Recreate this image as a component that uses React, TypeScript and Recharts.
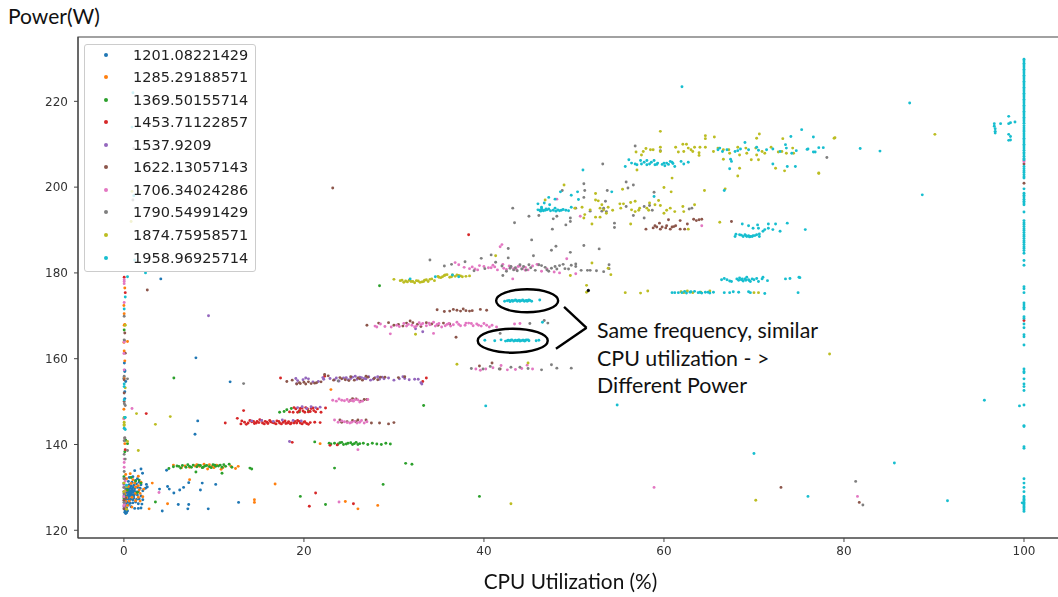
import { ScatterChart, Scatter, XAxis, YAxis, Legend, ReferenceArea, ReferenceDot, ReferenceLine } from "recharts";

type Pt = [number, number];

const FREQS = ["1201.08221429", "1285.29188571", "1369.50155714", "1453.71122857", "1537.9209", "1622.13057143", "1706.34024286", "1790.54991429", "1874.75958571", "1958.96925714"];
const COLORS = ["#1f77b4", "#ff7f0e", "#2ca02c", "#d62728", "#9467bd", "#8c564b", "#e377c2", "#7f7f7f", "#bcbd22", "#17becf"];
const X_TICKS = [0, 20, 40, 60, 80, 100];
const Y_TICKS = [120, 140, 160, 180, 200, 220];

const s1201: Pt[] = [
  [0.1, 124.2], [0.2, 123.9], [0.3, 124.1], [0.15, 124.6], [0.05, 125], [0.4, 124.5], [0.1, 125.6], [0.3, 125.2], [0.5, 125.9], [0.8, 125.5],
  [1.2, 125.1], [1.6, 125.1], [1.9, 125.2], [0.2, 126.2], [0.4, 126.5], [0.7, 126.3], [1, 126.4], [1.3, 126.6], [1.6, 126.2], [0.1, 127],
  [0.3, 127.2], [0.5, 127.4], [0.6, 127], [0.8, 127.3], [1, 127.1], [1.1, 127.5], [1.4, 127.2], [1.7, 127.3], [0.2, 128], [0.4, 128.1],
  [0.5, 128.4], [0.6, 127.9], [0.7, 128.2], [0.8, 128.5], [0.9, 128], [1, 128.3], [1.1, 128], [1.2, 128.4], [1.5, 128.2], [1.9, 128], [0.3, 128.8],
  [0.5, 129], [0.6, 128.7], [0.7, 129.1], [0.8, 128.8], [0.9, 129.2], [1, 128.9], [1.1, 129.2], [1.3, 129], [1.6, 129], [2.1, 129.2], [0.2, 129.6],
  [0.4, 129.8], [0.6, 129.5], [0.7, 129.9], [0.9, 129.6], [1, 130], [1.2, 129.7], [1.5, 130], [1.8, 129.8], [2.4, 129.8], [0.3, 130.4], [0.6, 130.6],
  [0.8, 130.3], [1.1, 130.5], [1.4, 130.8], [1.9, 130.6], [2.5, 130.7], [2.6, 130.1], [0.5, 131.4], [0.9, 131.2], [1.3, 131.6], [1.7, 131.2], [0.6, 132.3],
  [1, 132.5], [1.5, 132], [1.2, 133.9], [1.9, 134.3], [2.07, 133.3], [3.96, 129.6], [4.85, 130.2], [5.04, 129.6], [5.55, 128.7], [6.2, 129.4],
  [6.63, 130], [7.2, 131.1], [8.7, 131], [8.5, 129.4], [10.2, 130.7], [6.04, 126], [7.2, 126], [7.1, 125], [9.37, 125], [4.26, 124.5], [12.74, 126.5],
  [4.74, 134], [11.8, 154.6], [8.2, 145.5], [7.9, 142.4], [8, 160.2], [4.1, 178.6], [2, 126.1], [2.1, 127.1], [0, 155.4], [0.1, 157.3],
  [0.05, 159], [0.1, 157], [0.2, 154.7], [0.1, 152.3], [0.1, 150.7],
];
const s1285: Pt[] = [
  [0.1, 125.3], [0.4, 125.8], [0.9, 125.4], [1.3, 126.9], [0.2, 126.7], [0.6, 126.8], [1.8, 126.8], [0.3, 127.6], [0.9, 127.7], [1.6, 127.7],
  [2.1, 127.8], [0.1, 128.5], [1.3, 128.6], [1.8, 128.6], [0.3, 129.3], [1.7, 129.4], [2.2, 129.6], [0.5, 130.2], [1.3, 130.1], [1.6, 130.4],
  [0.8, 130.9], [1.2, 131], [1.9, 131.2], [1, 131.8], [0.3, 132], [0.2, 133], [1.6, 132.6], [0.7, 133.2], [3.15, 131], [2.8, 125], [4.85, 126.2],
  [7.3, 131.8], [16.8, 130.8], [14.5, 127.1], [14.5, 126.5], [26, 125], [23, 152.8], [21.8, 140.2], [5.5, 135.2], [6.4, 134.6], [7.3, 134.7],
  [7.9, 135], [8.4, 134.9], [8.9, 135.4], [9.3, 134.3], [9.8, 134.9], [10.3, 135.2], [10.8, 134.2], [11, 134.6], [11.9, 134.9], [12.4, 134.4],
  [12.7, 134.9], [0, 148.2], [0.1, 159.5], [0, 163.8], [0.1, 168], [0, 172.4], [0.1, 176.5], [0, 146], [0.1, 140.2], [28.2, 125.8], [24.6, 126.7],
  [0.03, 170.5], [0.03, 167.8], [0.4, 164], [0.03, 161.8], [0.03, 155.5], [6.8, 135], [8.1, 135.3], [9.5, 135.3], [10, 134.6],
];
const s1369: Pt[] = [
  [5, 134.4], [5.5, 134.8], [5.9, 135], [6.1, 134.9], [6.5, 135.1], [6.9, 134.7], [7.3, 134.9], [7.7, 135.2], [8.1, 134.8], [8.5, 135.1],
  [8.8, 134.7], [9.2, 135.1], [9.5, 134.8], [9.9, 135.3], [10.2, 134.9], [10.5, 135], [10.9, 134.7], [11.1, 135.3], [11.7, 135.4], [12, 134.7],
  [14, 134.5], [14.2, 134.3], [10.9, 133.3], [8, 133.6], [21.2, 140.6], [22.8, 140.3], [23.4, 140.3], [23.8, 140.1], [24.2, 140.5], [24.7, 140.1],
  [25.2, 140.4], [25.6, 140.2], [26, 140], [26.6, 140.3], [27.1, 140], [27.6, 140.3], [28.1, 140.1], [28.6, 140], [29.1, 140.3], [29.6, 140.1],
  [17.3, 147.5], [17.8, 147.7], [18.1, 148.1], [18.6, 148.4], [19.5, 147.6], [20.5, 147.8], [5.55, 155.5], [23.4, 134.5], [19.6, 127.9],
  [22.4, 126], [3.5, 126.6], [28.4, 177], [33.3, 149.1], [1.3, 131.5], [0.8, 132.3], [1.9, 131], [1.5, 128.8], [0.4, 129.4], [0.1, 128], [1.7, 131.7],
  [0.1, 138.3], [0.2, 141], [39.5, 127.9], [28.8, 130.7], [31.3, 135.6], [32, 135.4], [0.03, 166.7], [0.4, 140.2], [0, 130], [0, 127.5], [0, 132.5],
  [6.3, 134.5], [7.1, 135.3], [7.5, 134.7], [8.3, 135.2], [8.7, 134.6], [9, 135], [9.7, 134.6], [10.1, 135.2], [10.7, 135.2], [11.3, 134.9],
  [24, 140.4], [24.4, 140], [24.9, 140.3], [25.4, 140], [25.8, 140.5], [26.2, 140.2], [23, 140.1],
];
const s1453: Pt[] = [
  [11.26, 145], [12.6, 146.1], [13, 144.8], [13.4, 145.2], [13.8, 145], [14.2, 145.3], [14.5, 144.9], [14.8, 145.4], [15.1, 145.8], [15.4, 145],
  [15.7, 145.4], [16, 144.9], [16.3, 145.3], [16.7, 145], [17, 145.5], [17.3, 145], [17.7, 145.2], [18, 144.9], [18.3, 145.3], [18.6, 145], [19, 145.4],
  [19.3, 145.6], [19.6, 145], [20, 145.2], [20.3, 144.9], [20.7, 145.1], [21.2, 145.2], [21.8, 145.1], [18.4, 147.6], [18.9, 148.6], [19.3, 147.5],
  [19.6, 148.4], [19.9, 147.8], [20.2, 148.6], [20.5, 147.6], [20.8, 148.4], [21.1, 147.9], [21.5, 148.3], [21.9, 147.5], [22.4, 148.5], [17.4, 155.5],
  [22.3, 155.9], [13.3, 147.9], [2.48, 147.2], [21.3, 128.7], [20.6, 125.6], [25.5, 126.2], [18.7, 140.5], [38.3, 188.9], [33.6, 155.5],
  [22.9, 139.8], [23.7, 139.9], [0.03, 179], [0.15, 175.4], [0.15, 138.8], [100, 168.9], [33.2, 154.7],
  [13.1, 145.5], [13.6, 144.7], [14, 145.6], [14.4, 145.4], [14.7, 145], [15, 145.1], [15.3, 145.6], [15.6, 144.8], [15.9, 145.2], [16.2, 145.6], [16.5, 145.1], [16.9, 144.8],
  [17.2, 145.4], [17.5, 144.8], [17.9, 145.5], [18.2, 145], [18.5, 144.8], [18.9, 145], [19.2, 145], [19.5, 145.4], [19.8, 144.8], [20.1, 145.3], [20.5, 144.7],
  [18.8, 147.5], [19.1, 148.3], [19.5, 147.9], [19.8, 148.5], [20.1, 147.5], [20.4, 148.3], [20.7, 147.7], [21, 148.5], [21.3, 147.6],
];
const s1537: Pt[] = [
  [19.3, 154.9], [19.9, 155.1], [20.5, 155.3], [21, 154.6], [21.6, 154.7], [22.2, 155.2], [22.9, 155.4], [23.4, 155.1], [23.9, 154.8], [24.4, 155.5],
  [24.9, 155.1], [25.4, 155.7], [25.9, 155.2], [26.4, 155.6], [26.9, 155.3], [27.4, 155], [27.9, 155.6], [28.4, 155.2], [28.9, 155.3], [29.4, 155.5],
  [30, 155], [30.6, 155.3], [31.2, 155.4], [31.7, 155.1], [32.3, 155.2], [33, 154.4], [33.2, 166.3], [19.3, 148.6], [19.8, 148.8], [20.3, 148.4], [20.8, 148.8],
  [21.3, 148.6], [21.8, 148.7], [14.2, 145.5], [15.3, 145.6], [16.6, 145.4], [17.6, 145.7], [18.8, 145.6], [19.7, 145.5], [18.4, 140.7], [9.4, 170], [0.05, 126.5],
  [32.4, 167], [0, 128], [0, 125.5], [0, 130.7], [19.1, 155.4], [24.7, 155.6], [25.2, 155.4], [25.7, 155.9], [26.2, 155.7], [26.7, 155.4], [27.2, 155.8], [27.7, 155.2],
  [28.2, 155.8], [28.7, 155.7], [22.1, 155.6], [23.6, 155.5], [31, 155.8], [32.7, 155.2], [33.1, 154.1], [20.2, 155.5], [19.2, 154.2],
];
const s1622: Pt[] = [
  [18.1, 154.7], [18.7, 155], [19.5, 154.4], [20, 154.5], [20.5, 154.6], [21.2, 154.3], [21.9, 154.6], [22.7, 156], [24.2, 155.3], [25, 154.9],
  [26.2, 155.3], [26.9, 155.9], [28.2, 155.1], [29, 155.7], [30.5, 155.6], [31.2, 155.8], [27, 167.8], [28.3, 168.3], [29.4, 168.4], [30, 167.8],
  [30.5, 168], [31, 167.6], [31.4, 168.3], [31.8, 168.8], [32.1, 168.4], [32.6, 168], [33, 167.5], [33.6, 168.4], [34.2, 168.1], [34.9, 167.8], [35.5, 168.3],
  [36.2, 168.1], [34.8, 171.4], [35.6, 171], [36.2, 171.1], [36.6, 171.5], [37, 171.3], [37.4, 171.1], [37.7, 171.6], [38, 171.2], [38.4, 171.1], [38.7, 171.2],
  [39.6, 171.5], [40.3, 171.3], [58, 190.2], [58.8, 190.5], [59, 191], [59.2, 190.7], [59.5, 191.6], [59.6, 190.2], [59.8, 190.7], [60.2, 190.5],
  [60.3, 191], [60.5, 192.4], [60.7, 190.2], [60.9, 190.7], [61.1, 190.8], [61.3, 191], [61.8, 190.2], [61.8, 192.2], [62.3, 190.2], [62.6, 191.4],
  [63.3, 192.5], [63.6, 192.2], [63.9, 192.4], [64.2, 192.5], [67.5, 192], [25.2, 150.3], [25.8, 150.6], [27, 150.5], [26.9, 145.7], [27.5, 145],
  [24.2, 145.2], [25.8, 145.3], [26, 145.7], [23.2, 199.8], [100, 200.9], [100, 205.4], [0.1, 132], [0.2, 127.5], [0.1, 141.5], [0.1, 166], [0.05, 164.2],
  [40.9, 159], [39.5, 158.3], [41.8, 157.6], [36.9, 165], [2.6, 176], [73, 130], [81.7, 126.5], [0.15, 161.3], [0.03, 155.1], [0.03, 152], [0.03, 150],
  [0, 131], [0, 129], [0, 127], [0, 125], [19.2, 154.1], [19.6, 154.2], [20.2, 154.1], [20.8, 154.2], [21.4, 154.4], [24, 155.6], [24.6, 155.1], [25.2, 155.8],
  [25.6, 155], [26, 155.5], [26.5, 155], [27.1, 155.7], [27.8, 155.4], [28.5, 155.7], [22.3, 156.3], [24, 145.7], [24.8, 145.3], [25.4, 145.6], [28.4, 145],
  [30, 145.1], [29.4, 144.8], [23.3, 155], [25.4, 150.7], [26.3, 150.1], [26.7, 150.5],
];
const s1706: Pt[] = [
  [27.9, 167.6], [28.5, 168.1], [29, 167.5], [29.7, 167.4], [30.3, 167.8], [31.1, 168.2], [31.6, 168], [32, 167.8], [32.3, 167.4], [32.8, 168.4], [33.2, 168.2],
  [33.6, 167.7], [34, 167.9], [34.4, 168.5], [34.8, 168], [35.3, 167.4], [35.7, 167.7], [36.1, 168.2], [36.6, 167.9], [37, 168.5], [37.4, 167.7], [37.9, 167.8],
  [38.3, 168.3], [38.8, 167.7], [39.2, 168.1], [39.7, 167.6], [40.3, 167.8], [40.9, 167.8], [41.4, 167.4], [29.6, 165.8], [34.4, 165.9], [43.4, 168.1], [44, 168.2],
  [36.8, 182.4], [37.2, 181.9], [37.8, 181.3], [38.4, 181], [39, 180.9], [39.5, 181.7], [40, 181.5], [40.5, 181.2], [41, 181.8], [41.5, 180.7], [42.2, 181.1],
  [42.8, 181.6], [43.3, 181], [43.8, 181.5], [44.3, 181], [44.9, 180.7], [45.4, 181.6], [45.9, 182], [46.4, 180.4], [47, 180.9], [47.8, 180.2], [48.4, 180],
  [50.2, 179.8], [49.2, 183.3], [41.8, 186.1], [42, 186.6], [48.1, 197.2], [50.7, 193.2], [42.1, 182], [44.6, 181.3], [46, 181.9], [43.2, 178.6],
  [39.1, 157.6], [39.6, 157.3], [40.2, 157.6], [41, 157.9], [41.9, 158.4], [42.6, 157.4], [43.5, 157.5], [44.2, 157.7], [44.8, 158.5], [45.4, 157.6], [23.2, 150.3],
  [23.9, 150.6], [24.5, 150.2], [25, 150], [25.5, 150.1], [26, 150.4], [26.5, 150.1], [27.1, 150.5], [23.4, 145.7], [24.2, 145.5], [24.8, 145.1], [25.3, 145.2],
  [25.9, 145], [26.4, 145.6], [27, 145.3], [26, 138.8], [3.9, 128.8], [23.9, 126.6], [0.9, 148.4], [0, 146], [0.05, 143.7], [0, 161.2],
  [0.15, 131.5], [0.05, 126], [100, 205.9], [100, 206.2], [58.9, 130], [64.2, 191], [81.5, 127.9], [0.03, 178.4], [0.03, 178], [0.03, 177.5], [0.03, 173.1], [0.03, 163.9],
  [0.03, 157.4], [0.03, 136.6], [0.03, 135.8], [0.03, 134.7], [0, 130], [0, 127.8], [0, 125.8], [28.1, 167.4], [30.6, 167.5], [31.4, 167.6], [32.5, 167.6], [33, 167.9],
  [33.9, 168.3], [34.6, 167.6], [35, 168.2], [35.9, 168], [36.3, 167.6], [37.2, 168], [38, 168.3], [38.6, 168.2], [39.4, 167.8], [40, 168.2], [40.6, 167.4], [38.7, 181.4],
  [39.3, 180.7], [40.8, 181.2], [41.2, 181.4], [42.5, 180.8], [43, 181.4], [43.6, 180.8], [44, 181.6], [44.6, 180.6], [23.6, 150.1], [24.2, 150.3], [24.8, 150.5], [25.3, 150.3],
  [25.7, 150.5], [26.2, 149.9], [23.8, 145.2], [24.5, 145.3], [25.1, 145], [25.6, 145.4], [26.2, 145.2], [26.7, 145],
];
const s1790: Pt[] = [
  [45.3, 187.7], [47.5, 185.3], [48, 186.2], [51.1, 186.4], [52.8, 185.6], [49.6, 184.8], [45.5, 184], [42.7, 183.5], [42, 181.6], [42.5, 180.4], [42.9, 181.1],
  [43.3, 180.7], [43.7, 180.5], [44, 181.9], [44.4, 181.5], [44.7, 180.7], [45, 181.9], [46.1, 181.9], [46.4, 181.7], [47, 180.7], [47.5, 181.1], [47.9, 181.5],
  [48.4, 181.7], [48.8, 182], [49.7, 181.8], [50.2, 182.1], [50.2, 181.5], [50.8, 180.6], [51.5, 180.6], [51.8, 180.6], [52.5, 180.5], [53.3, 180.3], [53.9, 181.9],
  [53.9, 181], [42.1, 179.4], [41.3, 182.5], [34, 183], [38.9, 180.5], [39.7, 183.4], [40.8, 184.2], [42.7, 185.7], [43.4, 191.7], [40.1, 181], [37.9, 182.6],
  [36.4, 182], [35.6, 181.6], [46.1, 193.4], [48.1, 193.2], [43.2, 195.1], [45, 193.2], [48.7, 199.2], [51.1, 200.8], [51.2, 199.2], [51.1, 197.6], [50.2, 195.1],
  [53.7, 199.2], [55.8, 201.2], [56, 199.8], [56.6, 200.5], [58.9, 198.8], [56.8, 209.6], [59.6, 208.5], [53.2, 205.4], [78.1, 206.9], [47.7, 192.6], [47.6, 190.2],
  [49.1, 191.2], [49.6, 192.8], [49.6, 192], [54.5, 191.6], [54.5, 190.6], [57.8, 192.8], [56.6, 193.4], [53.5, 196.7], [53.3, 195.1], [53.6, 194.3], [53.1, 194.4],
  [51.8, 194.4], [55.8, 195.5], [57.8, 195.5], [58.4, 195.7], [58.7, 194.6], [62.8, 194.9], [63.1, 195.1], [38.6, 157.7], [39.9, 157.6], [40.7, 158.2], [41.7, 157.6],
  [43, 158], [44, 158], [44.9, 157.7], [46.4, 157.4], [47.5, 158.6], [48.1, 157.8], [49.7, 157.8], [46.7, 168.9], [47.1, 168.3], [45.1, 168.2], [41.8, 165.9], [23.8, 154.8],
  [13.3, 154.2], [0.05, 149.5], [0.1, 141.5], [0.05, 130], [81.3, 131.4], [82.1, 125.9], [1, 197], [1.1, 209], [0.03, 169.9], [0.03, 164.4], [0.4, 155.3], [0.03, 155.9],
  [0.15, 149.1], [0.03, 140.9], [0.4, 138.6], [0.03, 137.7], [0.15, 136.6], [0.03, 133.7], [0, 132], [0, 128.5], [0, 126.5], [43, 181.5], [43.5, 181.2], [44.2, 180.9],
  [45.2, 181.2], [45.7, 180.6], [46.8, 181.3], [47.2, 180.4], [48.1, 180.9], [49, 181], [49.4, 180.9],
];
const s1874: Pt[] = [
  [30, 178.5], [30.7, 178.2], [31.1, 177.8], [31.5, 177.9], [31.9, 178], [32.3, 177.7], [32.7, 178.1], [33.1, 177.9], [33.4, 178.3], [33.8, 178], [34.2, 178.6], [34.5, 178.2],
  [34.9, 179.2], [35.2, 178.9], [35.6, 179.4], [35.9, 179.6], [36.2, 179], [36.5, 179.5], [36.8, 179.2], [37.2, 179.4], [37.6, 179.1], [38, 179.2], [38.4, 179.3],
  [37, 158.7], [41.3, 184], [32.4, 165.7], [51.4, 177.1], [55.7, 175.4], [57.4, 175.3], [58.2, 175.8], [49.6, 179.4], [44.9, 159], [52, 182.3], [54.1, 179.6], [53.8, 181.1],
  [48.9, 200.5], [46.8, 197], [52.4, 198.5], [55.4, 199.5], [60, 199.9], [60.8, 198.9], [64.5, 199.2], [66.8, 199.6], [50.1, 195.1], [50.9, 195.3], [51.1, 192.8], [51.2, 193.6],
  [51.8, 194.7], [52.4, 197], [52.7, 196.8], [52.4, 193], [52.9, 193], [52, 191.4], [52.9, 195.1], [53.1, 195.9], [53.3, 194.7], [53.6, 193.9], [53.8, 195.3], [54.3, 194.6],
  [55.1, 196.1], [55.5, 196.1], [55.2, 195.1], [56.3, 191.4], [56.3, 196.4], [56.8, 196.7], [56.4, 194.7], [56.8, 194.3], [57.2, 194.6], [57.3, 195.1], [58.1, 195.1], [58.3, 194.6],
  [58.4, 196.3], [59, 195.9], [59.4, 196.9], [59.6, 195.7], [60, 193.9], [60.3, 194.6], [60.7, 195.1], [61.2, 194.3], [62.1, 195.5], [62.2, 194.3], [62.7, 190.2], [63.4, 195.9], [66.2, 191.8],
  [59.6, 213], [64.6, 212], [64.6, 211.3], [65.6, 211.7], [70.3, 211.4], [70.6, 212.4], [73.2, 211.3], [79, 211.5], [56.9, 208.2], [57.5, 207.5], [57.7, 208.3], [58, 209], [58.5, 208.7],
  [58.8, 208.7], [59.6, 208.3], [59.6, 209.3], [61.3, 209.3], [61.6, 208.2], [62.1, 210], [62.2, 208.3], [62.5, 210], [62.7, 209.1], [63, 208.7], [63.2, 208.3], [63.4, 209.3], [64, 209.3],
  [64.6, 209.3], [63.9, 208], [63.9, 207.4], [65.5, 208.3], [66, 209.1], [66.6, 208.7], [67.2, 208.7], [67.3, 207.9], [66.6, 206.5], [68.2, 209.3], [68.4, 207.5], [69.1, 209.1], [69.2, 207.9],
  [69.7, 206.4], [70.2, 209.1], [70.3, 207.5], [70.5, 206.4], [70.9, 208.3], [71.2, 207.9], [71.9, 209.3], [72.7, 208.2], [73.1, 208.3], [73.6, 207.9], [74.3, 209.1], [74.4, 207.9], [73.4, 203.8],
  [77.2, 203.3], [68.2, 202.6], [68.4, 204.4], [57, 204], [60.9, 202.1], [72.4, 204.4], [90.1, 212.3], [78.9, 211.4], [77.2, 203.2], [61.9, 175.6], [62.2, 175.4], [62.6, 175.8], [63.2, 175.4],
  [64.1, 175.5], [65.1, 175.8], [70, 175.4], [70.5, 175.4], [78.4, 161.1], [5.15, 146.5], [0.3, 124.9], [43, 126.2], [70.2, 127], [0.3, 130.2], [0.9, 199], [0.8, 192], [51.4, 175.5],
  [0.15, 167.8], [0.15, 153.2], [0.03, 146.3], [0.03, 145.2], [0.03, 144.7], [0.03, 144.4], [0.4, 140.7], [1.6, 138.6], [1.4, 147.2], [3.5, 144.7], [0, 131], [0, 129],
  [30.9, 178.3], [31.3, 178.1], [31.7, 178.3], [32.1, 178], [32.5, 178.2], [32.9, 177.8], [33.3, 178], [33.6, 178.4], [34, 178.5], [35, 179], [35.4, 179.1], [35.7, 179.5], [36.4, 179.1], [37, 179.5], [37.4, 179.3],
];
const s1958Column: number[] = [
  229.8, 229.4, 228.9, 228.5, 228, 227.5, 227.1, 226.6, 226.1, 225.7, 225.2, 224.7, 224.3, 223.8, 223.3, 222.9, 222.4, 221.9, 221.5, 221, 220.5, 220.1, 219.6, 219.1, 218.7, 218.2, 217.7,
  217.3, 216.8, 216.3, 215.9, 215.4, 214.9, 214.3, 213.8, 213.3, 212.9, 212.4, 211.9, 211.4, 211, 210.5, 210, 209.6, 209.1, 208.6, 208.1, 207.7, 207.2, 206.7, 206.4, 204.8, 204.3, 203.8, 203.4,
  202.9, 202.4, 202.1, 199.6, 198.6, 198.1, 197.7, 197.2, 196.7, 196.3, 195.9, 194.2, 192.2, 191.7, 191.3, 190.8, 190.3, 189.9, 189.4, 188.9, 188.5, 188, 187.5, 187.1, 186.6, 186.1, 185.7, 185.2,
  184.6, 182.9, 181.8, 176.8, 176.3, 175.4, 173, 172.5, 172, 171.6, 169.8, 169.4, 168.1, 167.2, 165.6, 165.1, 163.2, 157.6, 157, 156.7, 155.3, 154.1, 153.5, 152.6, 149.2, 144.4, 144.2, 139.5,
  139.1, 132, 131, 130, 129, 127.9, 127.5, 127.2, 126.9, 126.5, 126.2, 125.9, 125.5, 125.2, 124.8, 124.4,
];
const s1958: Pt[] = [
  ...s1958Column.map((y): Pt => [100, y]),
  [96.7, 214.8], [96.7, 214.2], [96.8, 213.6], [96.8, 213], [96.8, 212.6], [97.4, 214.8], [98.3, 216.5], [98.5, 215], [98.3, 214.8], [99, 215.2], [98.3, 212.3], [98.5, 211.8], [98.5, 211], [98.3, 210.9],
  [99.5, 149], [95.6, 150.3], [99.8, 126.4], [91.5, 126.9], [85.6, 135.7], [87.3, 219.6], [88.7, 198.2], [75.7, 190.1], [75.1, 178.9], [75.3, 213.4], [76.6, 211.7], [75.9, 208.8], [76.6, 208.2],
  [77.2, 209.2], [77.7, 209.2], [81.8, 209], [84, 208.4], [62, 223.4], [66, 208.7], [66.2, 209.1], [66.5, 208.3], [67, 208.7], [67.9, 208.3], [68.2, 208.5], [68.5, 208.9], [69, 210.4], [69.4, 208.7],
  [70.3, 209.3], [70.5, 208.6], [71.4, 208.7], [72.1, 208.9], [72.9, 208.3], [73.5, 209.9], [73.6, 209.1], [74.1, 211.8], [76, 208.9], [76.8, 208.2], [74.7, 208.5], [74.2, 207.9], [72.1, 205.4],
  [67.3, 204.3], [67.4, 206.5], [67.5, 206], [73.7, 204.8], [74.6, 204.8], [55.7, 204.8], [56.1, 206.4], [56.4, 205.6], [56.8, 205.4], [57, 205.2], [57.4, 206.2], [57.5, 205.4], [58.1, 206.2],
  [58.1, 205.2], [58.6, 205.8], [58.9, 206.2], [59, 205.2], [59.3, 205.6], [60, 205.6], [60.1, 205], [60.3, 205.6], [60.7, 206], [60.9, 205.8], [61.2, 204.8], [61.9, 206], [62.2, 205.4], [62.7, 205.8],
  [46, 194.7], [46.2, 194.6], [46.4, 194.9], [46.6, 194.5], [46.8, 194.6], [47, 194.7], [47.2, 194.9], [47.7, 194.6], [47.9, 195.1], [48.2, 194.7], [48.4, 194.5], [48.6, 194.6], [49.1, 194.6], [49.4, 194.5],
  [49.7, 195.3], [46, 196.1], [46.7, 196.3], [47.2, 197.6], [47.9, 197.2], [48.5, 198.9], [49.7, 198.1], [50.4, 198.9], [50.5, 197.1], [51, 204], [54.2, 198.9], [46.4, 195.3], [47.3, 195.9], [58.9, 197.8],
  [66.7, 199.2], [66.4, 178.4], [66.7, 178.7], [67, 178.4], [67.3, 178.1], [67.5, 178], [68.1, 178.6], [68.4, 178.8], [68.6, 178.4], [68.8, 178.1], [69, 178.6], [69.2, 179], [69.4, 178.4], [69.6, 178],
  [70, 178.4], [70.3, 178.7], [70.5, 178], [70.9, 178.6], [71, 179], [71.5, 178.2], [73.5, 178.6], [74, 178.7], [75, 179], [60.9, 175.4], [61.2, 175.4], [61.6, 175.4], [62.3, 175.7], [62.5, 175.3],
  [62.9, 175.5], [63.4, 175.7], [63.8, 175.4], [64.2, 175.3], [64.6, 175.5], [65.1, 175.3], [65.5, 175.5], [66.7, 175.4], [67.3, 175.4], [67.7, 175.6], [68.3, 175.5], [69.4, 175.6], [69.6, 175.4],
  [71.2, 175.2], [74.9, 175.4], [67.9, 188.5], [68, 189], [68.4, 188.9], [68.8, 188.5], [69, 188.9], [69.2, 188.5], [69.4, 188.7], [69.6, 188.5], [69.9, 188.7], [70.3, 188.9], [70.6, 188.5], [70.6, 189.1],
  [71, 189.7], [71.2, 190.1], [71.6, 190.4], [68.7, 191.4], [69.4, 191], [69.9, 190.4], [70.4, 191.2], [70.5, 190.4], [71.6, 191.4], [72.1, 190.1], [72.4, 191.4], [72.9, 189.7], [73.7, 191.6],
  [42.3, 173.4], [42.6, 173.5], [42.9, 173.3], [43.1, 173.6], [43.3, 173.5], [43.5, 173.7], [43.7, 173.4], [43.9, 173.6], [44.1, 173.5], [44.3, 173.7], [44.5, 173.4], [44.7, 173.6], [44.9, 173.5],
  [45.1, 173.6], [45.3, 173.4], [46.2, 173.7], [40.1, 164.3], [41.2, 164.2], [41.9, 164.4], [42.4, 164.1], [42.7, 164.3], [42.9, 164.2], [43.1, 164.4], [43.3, 164.1], [43.5, 164.3], [43.7, 164.2],
  [43.9, 164.4], [44.1, 164.2], [44.3, 164.3], [44.5, 164.1], [44.7, 164.4], [45, 164.2], [45.8, 164.2], [46.1, 164.3], [31.8, 178.6], [34.6, 179.1], [36.5, 179.5], [37.2, 179.1], [46.5, 168.5],
  [76, 127.9], [0.1, 146.3], [1, 222], [0.9, 214], [1.1, 198], [1.2, 183], [2.4, 180], [0.3, 130.5], [70, 137.9], [40.2, 149], [54.8, 149.2],
  [0.4, 179.1], [0.15, 174.4], [0.03, 171.6], [0.03, 154.1], [0.03, 153.5], [0.03, 150.4], [0.15, 146.3], [0.03, 143.8], [0.15, 143.5],
  [42.8, 173.6], [43.2, 173.4], [43.6, 173.6], [44, 173.4], [44.4, 173.5], [44.8, 173.4], [45, 173.7], [42.6, 164.2], [43, 164.3], [43.4, 164.2], [43.8, 164.3], [44, 164.1], [44.4, 164.3], [44.6, 164.2], [44.9, 164.4],
  [46.3, 194.4], [46.5, 194.7], [46.9, 194.9], [47.4, 194.5], [48, 194.4], [48.8, 194.8], [68.6, 188.8], [69.1, 188.7], [69.5, 188.4], [69.8, 188.5], [70.1, 188.7], [68.3, 178.3], [68.7, 178.6], [69.1, 178.3], [69.5, 178.2], [69.8, 178.6],
  [62, 175.4], [63, 175.6], [64, 175.5], [64.9, 175.5], [57.8, 205.8], [58.4, 205.4], [59.2, 205.3], [59.8, 205.3], [60.5, 205.3], [61, 205.5],
];

const SERIES: Pt[][] = [s1201, s1285, s1369, s1453, s1537, s1622, s1706, s1790, s1874, s1958];

const toPoints = (pts: Pt[]) => pts.map(([x, y]) => ({ x, y }));

const Dot = (props: any) => <circle cx={props.cx} cy={props.cy} r={1.45} fill={props.fill} />;

const FrameLegend = ({ payload }: any) => (
  <div style={{ width: 170, height: 226, border: "1px solid #ccc", borderRadius: 3, background: "rgba(255,255,255,0.8)" }}>
    <div style={{ position: "relative", top: -1.7 }}>
      {(payload ?? []).map((item: any) => (
        <div key={item.value} style={{ display: "flex", alignItems: "center", height: 22.55 }}>
          <span style={{ width: 4, height: 4, borderRadius: 2, background: item.color, marginLeft: 19, marginRight: 25 }} />
          <span style={{ fontFamily: "DejaVu Sans", fontSize: 14.5, color: "#222" }}>{item.value}</span>
        </div>
      ))}
    </div>
  </div>
);

const ellipse = (rx: number, ry: number) => (props: any) => (
  <ellipse cx={props.cx} cy={props.cy} rx={rx} ry={ry} fill="none" stroke="#000" strokeWidth={2.4} />
);

const noteFont = "Lato, 'Open Sans', sans-serif";

export default function App() {
  return (
    <div style={{ position: "absolute", left: 0, top: 0, width: 1058, height: 597, overflow: "hidden", background: "#fff" }}>
      <div style={{ filter: "blur(0.35px)" }}>
        <ScatterChart width={1080} height={597} margin={{ top: 37, right: 11, bottom: 0, left: 0 }}>
          <XAxis
            type="number"
            dataKey="x"
            domain={[-5.1, 105]}
            ticks={X_TICKS}
            height={59}
            tickSize={4}
            tickMargin={4}
            tick={{ fontSize: 12, fontFamily: "DejaVu Sans", fill: "#333" }}
            stroke="#444"
            label={{ value: "CPU Utilization (%)", position: "insideBottom", offset: 8, dx: -3, style: { fontFamily: noteFont, fontSize: 20.8, fill: "#111" } }}
          />
          <YAxis
            type="number"
            dataKey="y"
            domain={[118.2, 235]}
            ticks={Y_TICKS}
            width={78}
            tickSize={4}
            tickMargin={6}
            tick={{ fontSize: 12, fontFamily: "DejaVu Sans", fill: "#333" }}
            stroke="#444"
          />
          <ReferenceArea x1={-5.1} x2={105} y1={118.2} y2={235} fill="none" stroke="#444" strokeWidth={1.2} />
          {SERIES.map((pts, i) => (
            <Scatter key={FREQS[i]} name={FREQS[i]} data={toPoints(pts)} fill={COLORS[i]} shape={Dot} isAnimationActive={false} />
          ))}
          <ReferenceDot x={44.8} y={173.5} shape={ellipse(31, 11.5)} />
          <ReferenceDot x={43.2} y={164.2} shape={ellipse(35, 12)} />
          <ReferenceDot x={51.6} y={175.9} r={1.2} fill="#000" stroke="#000" />
          <ReferenceLine segment={[{ x: 48.9, y: 172.1 }, { x: 51.4, y: 167.2 }]} stroke="#000" strokeWidth={2.4} />
          <ReferenceLine segment={[{ x: 51.4, y: 167.2 }, { x: 48, y: 162.3 }]} stroke="#000" strokeWidth={2.4} />
          <Legend layout="vertical" align="center" verticalAlign="middle" content={<FrameLegend />} wrapperStyle={{ left: 84, top: 44, width: 172 }} />
        </ScatterChart>
      </div>
      <div style={{ position: "absolute", left: 8, top: 3, fontFamily: noteFont, fontSize: 21, color: "#111" }}>Power(W)</div>
      <div style={{ position: "absolute", left: 597, top: 317, fontFamily: noteFont, fontSize: 21.4, lineHeight: "27.5px", color: "#111", whiteSpace: "pre" }}>
        {"Same frequency, similar\nCPU utilization - >\nDifferent Power"}
      </div>
    </div>
  );
}
